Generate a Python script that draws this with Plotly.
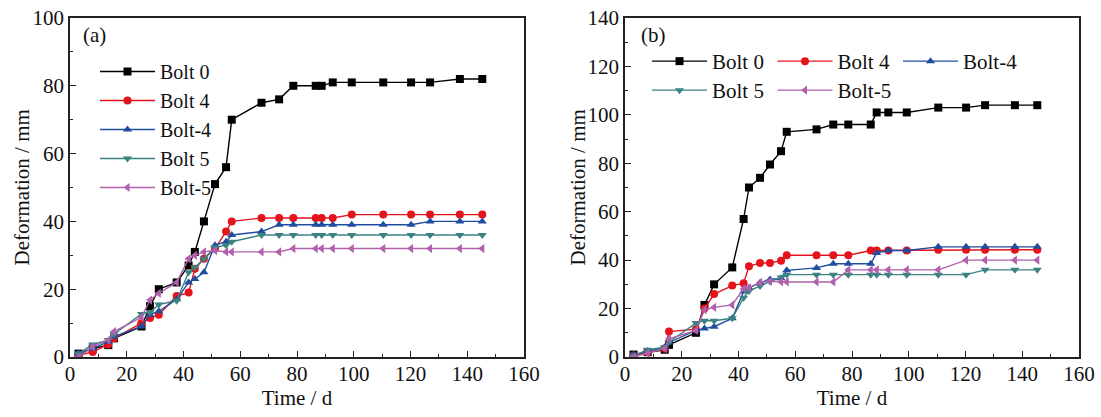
import plotly.graph_objects as go

# ---------------- data: panel (a) ----------------
time_a = [3, 8, 13.5, 15.5, 25.2, 28.2, 31.3, 37.6, 41.8, 44, 47.2, 51.1, 55, 57,
          67.5, 73.7, 78.7, 86.6, 88.7, 92.6, 99.3, 110.4, 120.2, 126.9, 137.4, 145.3]
bolt0_a = [1, 2.5, 3.5, 5.5, 9, 15, 20, 22, 27, 31, 40, 51, 56, 70,
           75, 76, 80, 80, 80, 81, 81, 81, 81, 81, 82, 82]
bolt4_a = [0.5, 1.5, 3.7, 5.5, 10, 11.5, 12.5, 18, 19, 26, 29, 32, 37, 40,
           41, 41, 41, 41, 41, 41, 42, 42, 42, 42, 42, 42]
boltm4_a = [1, 2.5, 4.5, 6, 9, 12.5, 13.5, 17, 22, 23, 25, 33, 34, 36,
            37, 39, 39, 39, 39, 39, 39, 39, 39, 40, 40, 40]
bolt5_a = [1, 3.7, 5, 6.7, 12.7, 13.2, 15.5, 16.6, 25, 26.5, 29, 32.3, 33, 34,
           36, 36, 36, 36, 36, 36, 36, 36, 36, 36, 36, 36]
boltm5_a = [0, 3, 5, 7.5, 11.7, 16.8, 18.8, 22, 29, 30, 31, 31.4, 31, 31,
            31, 31, 32, 32, 32, 32, 32, 32, 32, 32, 32, 32]

# ---------------- data: panel (b) ----------------
time_b = [3, 8, 14, 15.5, 25, 28, 31.4, 37.8, 41.8, 43.7, 47.6, 51.1, 55, 57,
          67.5, 73.4, 78.7, 86.6, 88.7, 92.8, 99.3, 110.4, 120.2, 126.9, 137.4, 145.3]
bolt0_b = [1, 2, 3, 5, 10, 21.5, 30, 37, 57, 70, 74, 79.5, 85, 93,
           94, 96, 96, 96, 101, 101, 101, 103, 103, 104, 104, 104]
bolt4_b = [0.5, 2, 3.5, 10.5, 11.5, 20, 26, 29.5, 30.5, 37.5, 38.8, 38.8, 39.8, 42,
           42, 42, 42, 44, 44, 44, 44, 44.3, 44.3, 44.3, 44.3, 44.3]
boltm4_b = [1, 2.5, 4, 6, 11, 11.8, 12.5, 16, 27, 28.6, 30.7, 32, 32.5, 35.8,
            36.8, 38.5, 38.5, 38.5, 43, 44, 44, 45.5, 45.5, 45.5, 45.5, 45.5]
bolt5_b = [0.5, 3, 4, 6.2, 14, 15, 15, 16, 24.5, 27.3, 29.3, 31.2, 32.8, 34,
           34, 34, 34, 34, 34, 34, 34, 34, 34, 36, 36, 36]
boltm5_b = [0, 1.5, 3.5, 7.5, 11, 19.5, 20.5, 21.5, 28.2, 28.6, 30.8, 31.3, 31, 31,
            31, 31, 36, 36, 36, 36, 36, 36, 40, 40, 40, 40]

names = ["Bolt 0", "Bolt 4", "Bolt-4", "Bolt 5", "Bolt-5"]
colors = ["#000000", "#E5131B", "#1F4DA0", "#3B8282", "#B060AC"]
symbols = ["square", "circle", "triangle-up", "triangle-down", "triangle-left"]
x_ticks = [0, 20, 40, 60, 80, 100, 120, 140, 160]
y_title = "Deformation / mm"
x_title = "Time / d"

FONT = "Times New Roman, Liberation Serif, Tinos, DejaVu Serif, serif"
W, H = 1101, 417

fig = go.Figure()
series_a = [bolt0_a, bolt4_a, boltm4_a, bolt5_a, boltm5_a]
series_b = [bolt0_b, bolt4_b, boltm4_b, bolt5_b, boltm5_b]
legend_b = ["legend2", "legend2", "legend2", "legend3", "legend3"]
for i in range(5):
    fig.add_trace(go.Scatter(
        x=time_a, y=series_a[i], name=names[i], mode="lines+markers",
        line=dict(color=colors[i], width=1.4),
        marker=dict(symbol=symbols[i], size=8, color=colors[i]),
        xaxis="x", yaxis="y", legend="legend"))
for i in range(5):
    fig.add_trace(go.Scatter(
        x=time_b, y=series_b[i], name=names[i], mode="lines+markers",
        line=dict(color=colors[i], width=1.4),
        marker=dict(symbol=symbols[i], size=8, color=colors[i]),
        xaxis="x2", yaxis="y2", legend=legend_b[i]))

ydom = [(H - 357) / H, (H - 18) / H]
axis_common = dict(
    showline=True, mirror=True, linecolor="#222", linewidth=1.5,
    ticks="inside", ticklen=6, tickwidth=1.3, tickcolor="#222",
    showgrid=False, zeroline=False,
    tickfont=dict(family=FONT, size=21, color="#111"),
    title_font=dict(family=FONT, size=21, color="#111"),
    minor=dict(ticks="inside", ticklen=3, tickwidth=1.2, tickcolor="#222"),
    automargin=False,
)

leg_common = dict(xanchor="left", yanchor="top", bgcolor="rgba(0,0,0,0)",
                  itemwidth=55, font=dict(family=FONT, size=21, color="#111"))
txt_font = dict(family=FONT, size=21, color="#111")

fig.update_layout(
    width=W, height=H, margin=dict(l=0, r=0, t=0, b=0),
    paper_bgcolor="white", plot_bgcolor="white",
    font=dict(family=FONT, size=21, color="#111"),
    xaxis=dict(axis_common, domain=[70 / W, 524 / W], range=[0, 160],
               tickvals=x_ticks, minor_dtick=10, title_text=x_title,
               title_standoff=0, ticklabelstandoff=-3, anchor="y"),
    yaxis=dict(axis_common, domain=ydom, range=[0, 100], dtick=20,
               minor_dtick=10, anchor="x"),
    xaxis2=dict(axis_common, domain=[625 / W, 1079 / W], range=[0, 160],
                tickvals=x_ticks, minor_dtick=10, title_text=x_title,
                title_standoff=0, ticklabelstandoff=-3, anchor="y2"),
    yaxis2=dict(axis_common, domain=ydom, range=[0, 140], dtick=20,
                minor_dtick=10, anchor="x2"),
    legend=dict(leg_common, x=95 / W, y=1 - 52 / H, orientation="v",
                font=dict(family=FONT, size=20, color="#111")),
    legend2=dict(leg_common, x=647 / W, y=1 - 41 / H, orientation="h",
                 entrywidth=55.5),
    legend3=dict(leg_common, x=647 / W, y=1 - 70 / H, orientation="h",
                 entrywidth=55.5),
    annotations=[
        dict(text="(a)", xref="x domain", yref="y domain", x=0.025, y=0.99,
             xanchor="left", yanchor="top", showarrow=False, font=txt_font),
        dict(text="(b)", xref="x2 domain", yref="y2 domain", x=0.03, y=0.99,
             xanchor="left", yanchor="top", showarrow=False, font=txt_font),
        dict(text=y_title, xref="paper", yref="y domain", x=22 / W, y=0.5,
             xanchor="center", yanchor="middle", textangle=-90,
             showarrow=False, font=txt_font),
        dict(text=y_title, xref="paper", yref="y2 domain", x=578 / W, y=0.5,
             xanchor="center", yanchor="middle", textangle=-90,
             showarrow=False, font=txt_font),
    ],
)

fig.write_html("out.html")
